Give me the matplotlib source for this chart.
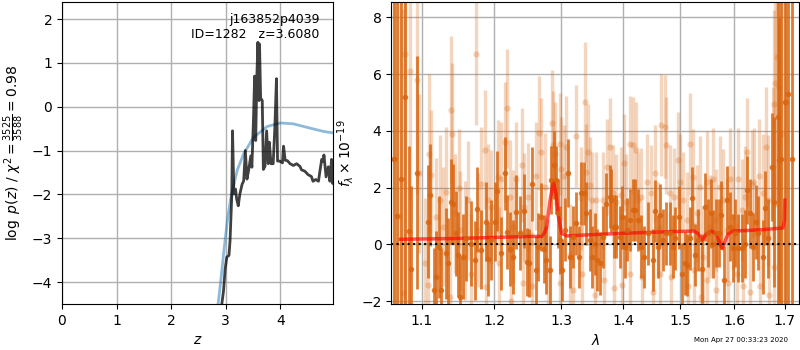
import matplotlib
matplotlib.use("Agg")
import matplotlib.pyplot as plt
from matplotlib.ticker import FixedLocator, FixedFormatter, NullLocator

# ---- redshift probability panel ----
z_grid = [2.90, 2.93, 2.96, 2.99, 3.02, 3.06, 3.08, 3.11, 3.125, 3.15, 3.18, 3.20,
          3.23, 3.26, 3.30, 3.33, 3.36, 3.39, 3.42, 3.46, 3.48, 3.51, 3.53, 3.55,
          3.57, 3.59, 3.61, 3.62, 3.64, 3.67, 3.69, 3.72, 3.75, 3.78, 3.80, 3.83,
          3.87, 3.90, 3.93, 3.95, 3.99, 4.04, 4.06, 4.09, 4.13, 4.18, 4.24, 4.30,
          4.36, 4.39, 4.45, 4.51, 4.57, 4.60, 4.65, 4.70, 4.73, 4.76, 4.79, 4.80,
          4.84, 4.88, 4.91, 4.94, 4.96, 4.98]
log_pz = [-4.80, -4.49, -4.20, -3.70, -3.43, -3.39, -3.05, -2.07, -0.55, -1.99, -1.88, -2.10,
          -2.26, -1.99, -1.77, -1.69, -1.00, -1.65, -1.45, -1.12, -1.38, -0.24, 0.70, -0.77,
          0.65, 1.47, 0.14, 1.43, 0.20, 0.14, -1.43, -1.36, -0.55, -1.30, -0.81, -1.30,
          -1.30, -0.49, 0.64, -1.24, -1.24, -1.28, -0.90, -1.22, -1.23, -1.30, -1.34, -1.30,
          -1.36, -1.44, -1.47, -1.55, -1.59, -1.70, -1.66, -1.70, -1.44, -1.20, -1.25, -1.10,
          -1.60, -1.37, -1.70, -1.20, -1.75, -1.60]

z_prior = [2.84, 2.88, 2.92, 2.97, 3.03, 3.09, 3.21, 3.33, 3.51, 3.76, 4.00, 4.24,
           4.52, 4.78, 4.98]
log_prior = [-4.70, -4.30, -3.85, -3.25, -2.60, -2.10, -1.45, -1.07, -0.70, -0.45, -0.37, -0.39,
             -0.48, -0.56, -0.60]

field_name = "j163852p4039"
obj_id = 1282
z_best = 3.6080
chi2_num, chi2_den = 3525, 3588

# ---- 1D spectrum panel ----
# first set (strong points)
wave_a = [1.0636, 1.0680, 1.0723, 1.0784, 1.0831, 1.0862, 1.0935, 1.1080, 1.1112, 1.1160,
          1.1183, 1.1227, 1.1259, 1.1318, 1.1349, 1.1396, 1.1418, 1.1455, 1.1486, 1.1519,
          1.1555, 1.1603, 1.1673, 1.1719, 1.1751, 1.1813, 1.1875, 1.1908, 1.1956, 1.2002,
          1.2036, 1.2100, 1.2148, 1.2188, 1.2222, 1.2270, 1.2310, 1.2368, 1.2433, 1.2484,
          1.2508, 1.2559, 1.2609, 1.2643, 1.2695, 1.2731, 1.2772, 1.2823, 1.2849, 1.2884,
          1.2926, 1.2957, 1.2977, 1.3019, 1.3060, 1.3108, 1.3146, 1.3187, 1.3229, 1.3281,
          1.3319, 1.3361, 1.3400, 1.3453, 1.3497, 1.3534, 1.3571, 1.3615, 1.3669, 1.3726,
          1.3780, 1.3808, 1.3846, 1.3891, 1.3946, 1.3991, 1.4030, 1.4069, 1.4127, 1.4171,
          1.4212, 1.4256, 1.4314, 1.4354, 1.4428, 1.4505, 1.4550, 1.4602, 1.4644, 1.4690,
          1.4750, 1.4809, 1.4868, 1.4898, 1.4975, 1.5036, 1.5078, 1.5120, 1.5169, 1.5200,
          1.5260, 1.5320, 1.5383, 1.5444, 1.5506, 1.5557, 1.5599, 1.5650, 1.5712, 1.5756,
          1.5800, 1.5852, 1.5915, 1.5967, 1.6011, 1.6074, 1.6139, 1.6204, 1.6237, 1.6301,
          1.6366, 1.6419, 1.6464, 1.6551, 1.6597, 1.6663, 1.6731, 1.6771, 1.6851, 1.6883,
          1.6919, 1.7000, 1.7056, 1.7144]
flux_a = [3.00, 1.00, 2.32, 5.20, 0.48, -0.85, 2.53, 0.80, 1.74, -1.61,
          -1.14, -0.08, -1.61, -0.32, -0.67, 1.50, 1.43, 0.39, -0.37, -1.84,
          -0.44, 0.21, 0.02, -0.56, 1.23, -0.18, 0.80, -0.52, 0.15, 0.80,
          1.88, -0.32, 2.50, 0.43, -0.17, -0.45, 1.15, 0.39, 1.19, -0.62,
          -0.65, 2.12, -0.90, -0.08, 0.95, -0.17, -0.55, -0.90, 2.26, 2.79,
          2.26, 1.09, 0.15, -0.90, 0.52, 2.50, -0.44, 0.27, 0.74, -0.44,
          1.80, 1.80, 1.09, 0.15, -0.44, 0.02, -0.55, -0.67, 0.27, 1.43,
          1.68, 1.55, 0.63, 0.63, 0.27, 0.95, -0.08, 0.52, 0.86, 1.22,
          1.22, 0.86, -0.08, -0.44, 0.39, -0.55, 1.18, -0.08, 1.03, 0.15,
          0.39, 0.39, -0.08, 0.21, 0.95, -1.05, -0.67, -0.73, 0.21, 1.62,
          -0.37, 0.15, -0.85, 1.31, 0.39, 1.09, 0.02, 0.39, 0.39, 1.03,
          -1.26, 1.55, 0.63, -0.13, 0.39, -0.13, -0.13, 0.02, 1.91, 1.09,
          -0.08, 0.80, 0.39, -0.44, 1.27, 0.21, 2.73, 1.50, 4.50, 2.97,
          3.00, 5.00, 5.31, 3.00]
err_a = [12.0, 12.0, 10.0, 9.0, 3.0, 2.9, 4.1, 2.0, 1.8, 1.5,
         1.6, 1.8, 1.5, 1.6, 1.6, 1.5, 1.4, 1.5, 1.5, 1.4,
         1.5, 1.5, 1.5, 1.4, 1.5, 1.4, 1.4, 1.3, 1.4, 1.4,
         1.4, 1.3, 1.3, 1.3, 1.3, 1.3, 1.3, 1.3, 1.3, 1.2,
         1.2, 1.3, 1.2, 1.2, 1.2, 1.2, 1.2, 1.2, 1.2, 1.2,
         1.2, 1.2, 1.2, 1.1, 1.1, 1.2, 1.1, 1.1, 1.1, 1.1,
         1.1, 1.1, 1.1, 1.1, 1.1, 1.1, 1.1, 1.1, 1.1, 1.1,
         1.1, 1.1, 1.1, 1.1, 1.1, 1.1, 1.1, 1.1, 1.1, 1.1,
         1.1, 1.1, 1.1, 1.1, 1.1, 1.1, 1.1, 1.1, 1.1, 1.1,
         1.1, 1.1, 1.1, 1.1, 1.1, 1.1, 1.1, 1.1, 1.1, 1.1,
         1.1, 1.1, 1.2, 1.2, 1.2, 1.2, 1.2, 1.2, 1.2, 1.2,
         1.2, 1.2, 1.2, 1.2, 1.2, 1.2, 1.2, 1.2, 1.2, 1.2,
         1.2, 1.3, 1.3, 1.3, 1.3, 1.4, 1.9, 3.0, 12.0, 5.0,
         12.0, 12.0, 12.0, 12.0]

# second set (faint points)
wave_b = [1.0638, 1.0697, 1.0752, 1.0775, 1.0844, 1.0931, 1.0957, 1.1036, 1.1080, 1.1094,
          1.1126, 1.1192, 1.1236, 1.1281, 1.1318, 1.1379, 1.1396, 1.1406, 1.1441, 1.1495,
          1.1509, 1.1579, 1.1625, 1.1673, 1.1733, 1.1765, 1.1813, 1.1860, 1.1885, 1.1908,
          1.1956, 1.2051, 1.2061, 1.2100, 1.2148, 1.2182, 1.2222, 1.2236, 1.2270, 1.2320,
          1.2409, 1.2421, 1.2429, 1.2493, 1.2544, 1.2556, 1.2609, 1.2658, 1.2695, 1.2746,
          1.2797, 1.2858, 1.2874, 1.2900, 1.2977, 1.2988, 1.3004, 1.3040, 1.3082, 1.3145,
          1.3186, 1.3240, 1.3319, 1.3332, 1.3373, 1.3389, 1.3426, 1.3465, 1.3497, 1.3534,
          1.3562, 1.3669, 1.3681, 1.3736, 1.3780, 1.3835, 1.3846, 1.3891, 1.3974, 1.3991,
          1.4013, 1.4059, 1.4115, 1.4123, 1.4171, 1.4217, 1.4256, 1.4314, 1.4328, 1.4411,
          1.4487, 1.4515, 1.4545, 1.4602, 1.4631, 1.4649, 1.4720, 1.4738, 1.4809, 1.4827,
          1.4880, 1.4957, 1.4987, 1.5047, 1.5109, 1.5138, 1.5169, 1.5229, 1.5242, 1.5291,
          1.5351, 1.5366, 1.5412, 1.5476, 1.5491, 1.5537, 1.5599, 1.5649, 1.5662, 1.5724,
          1.5787, 1.5852, 1.5882, 1.5915, 1.5978, 1.6043, 1.6073, 1.6139, 1.6170, 1.6204,
          1.6249, 1.6302, 1.6335, 1.6380, 1.6483, 1.6497, 1.6563, 1.6617, 1.6663, 1.6673,
          1.6763, 1.6773, 1.6777, 1.6797, 1.6831, 1.6884, 1.6939, 1.7021]
flux_b = [3.00, 1.00, -1.72, 6.70, 6.10, 5.78, 2.50, -0.67, -1.44, 3.20,
          2.43, 0.95, 1.55, 0.63, 1.85, -1.87, 4.75, 3.90, 1.09, 1.97,
          0.50, 0.15, 1.55, -1.03, 6.72, 0.50, 2.14, 3.34, -1.50, 1.55,
          1.32, 2.38, -0.67, 2.30, 3.61, 4.79, 1.68, -2.00, 0.63, 2.30,
          2.79, -1.37, 1.32, 1.68, 0.08, -1.48, 2.40, 3.93, 3.26, 2.02,
          -0.90, 4.26, 3.50, 3.20, -1.37, 3.55, 2.67, 2.40, 3.44, -0.37,
          -1.60, 3.81, 1.62, -1.03, 5.02, 2.55, 3.26, 2.08, 1.55, -1.80,
          1.55, 1.55, -1.26, 2.73, 3.44, 1.80, -1.55, 1.50, 1.74, -1.43,
          2.88, 1.50, 3.53, -1.03, 3.49, 3.32, 1.55, 1.68, -1.14, 2.20,
          1.80, -1.66, 2.50, 0.50, -1.03, 4.20, 4.15, 3.49, 1.80, -1.14,
          1.68, 2.97, 2.20, 1.55, 0.86, -1.48, 3.55, 2.38, -0.90, 1.09,
          2.02, -1.84, -0.44, 2.20, -1.26, 0.63, 2.30, -1.61, 0.86, 2.02,
          1.55, 0.50, -1.37, 2.30, 0.95, -1.03, 2.30, 1.22, -1.48, 1.68,
          3.26, -1.66, 2.14, 2.20, 2.40, -1.48, 1.80, 3.44, 1.55, -1.80,
          2.73, -0.79, 4.95, 5.67, 6.60, 5.55, 3.90, 5.00]
err_b = [15.0, 12.0, 10.0, 10.0, 4.5, 4.0, 2.8, 2.3, 2.1, 2.8,
         2.3, 2.1, 2.3, 2.1, 2.3, 2.1, 2.6, 2.5, 2.1, 2.1,
         2.1, 2.1, 2.1, 2.1, 2.5, 2.0, 2.0, 2.1, 2.0, 2.0,
         2.0, 2.0, 2.0, 2.0, 2.1, 2.1, 2.0, 1.9, 2.0, 2.0,
         2.0, 1.9, 1.9, 1.9, 1.9, 1.9, 1.9, 2.0, 1.9, 1.9,
         1.8, 1.9, 1.9, 1.8, 1.8, 1.8, 1.8, 1.8, 1.8, 1.8,
         1.8, 1.8, 1.8, 1.7, 2.1, 1.7, 1.7, 1.7, 1.7, 1.7,
         1.7, 1.7, 1.7, 1.7, 1.7, 1.7, 1.7, 1.7, 1.7, 1.7,
         1.7, 1.7, 1.7, 1.7, 1.7, 1.7, 1.7, 1.7, 1.7, 1.7,
         1.7, 1.7, 1.7, 1.7, 1.7, 1.8, 1.8, 1.7, 1.7, 1.7,
         1.7, 1.7, 1.7, 1.7, 1.7, 1.7, 1.8, 1.7, 1.7, 1.7,
         1.8, 1.8, 1.8, 1.8, 1.8, 1.8, 1.8, 1.8, 1.8, 1.8,
         1.8, 1.8, 1.8, 1.8, 1.8, 1.8, 1.8, 1.8, 1.8, 1.8,
         1.9, 1.9, 1.9, 1.9, 2.0, 2.0, 2.1, 2.1, 2.3, 2.3,
         2.8, 3.3, 3.3, 4.3, 5.3, 5.3, 8.0, 12.0]

# best-fit model
wave_model = [1.0722, 1.1500, 1.2503, 1.2700, 1.2740, 1.2777, 1.2828, 1.2880, 1.2920, 1.2957,
              1.3008, 1.3087, 1.3566, 1.4000, 1.4680, 1.5250, 1.5320, 1.5394, 1.5470, 1.5574,
              1.5660, 1.5768, 1.5877, 1.5960, 1.6250, 1.6570, 1.6960, 1.6990, 1.7000]
flux_model = [0.18, 0.21, 0.28, 0.28, 0.40, 0.63, 1.56, 2.20, 1.80, 0.99,
              0.39, 0.30, 0.35, 0.39, 0.44, 0.47, 0.38, 0.15, 0.36, 0.47,
              0.36, -0.14, 0.36, 0.47, 0.49, 0.52, 0.58, 0.86, 1.56]

wave_ticks = [1.1, 1.2, 1.3, 1.4, 1.5, 1.6, 1.7]
timestamp = "Mon Apr 27 00:33:23 2020"

grism_color = "#d9650f"

fig = plt.figure(figsize=(8, 3.5), dpi=100)

# left: p(z)
ax1 = fig.add_axes([0.0775, 0.1314, 0.339, 0.863])
ax1.plot(z_prior, log_prior, color="#1f77b4", alpha=0.5, lw=2)
ax1.plot(z_grid, log_pz, color="k", alpha=0.75, lw=2)
ax1.set_xlim(0, 4.97)
ax1.set_ylim(-4.5, 2.39)
ax1.set_xticks([0, 1, 2, 3, 4])
ax1.set_yticks([-4, -3, -2, -1, 0, 1, 2])
ax1.grid(True, color="#b0b0b0", lw=1)
ax1.set_axisbelow(True)
ax1.set_xlabel("$z$")
ax1.set_ylabel(r"$\log\ p(z)$ / $\chi^2=\frac{%d}{%d}=%.2f$"
               % (chi2_num, chi2_den, chi2_num / chi2_den))
ax1.text(0.95, 0.965, "%s\nID=%-5d  z=%.4f" % (field_name, obj_id, z_best),
         ha="right", va="top", transform=ax1.transAxes, fontsize=9)

# right: spectrum
ax2 = fig.add_axes([0.489, 0.1314, 0.51, 0.863])
ax2.errorbar(wave_b, flux_b, yerr=err_b, color=grism_color, alpha=0.27,
             marker="o", ms=4.5, linestyle="none", elinewidth=2.4, capsize=0,
             markeredgewidth=0)
ax2.errorbar(wave_a, flux_a, yerr=err_a, color=grism_color, alpha=0.85,
             marker="o", ms=4.0, linestyle="none", elinewidth=2.0, capsize=0,
             markeredgewidth=0)
ax2.plot(wave_model, flux_model, color="r", alpha=0.65, lw=2.5)
ax2.axhline(0, color="k", linestyle=":", lw=1.5)
ax2.set_xscale("log")
ax2.set_xlim(1.0603, 1.7295)
ax2.set_ylim(-2.1, 8.54)
ax2.xaxis.set_major_locator(FixedLocator(wave_ticks))
ax2.xaxis.set_major_formatter(FixedFormatter(["%.1f" % w for w in wave_ticks]))
ax2.xaxis.set_minor_locator(NullLocator())
ax2.set_yticks([-2, 0, 2, 4, 6, 8])
ax2.grid(True, color="#b0b0b0", lw=1)
ax2.set_axisbelow(True)
ax2.set_xlabel(r"$\lambda$")
ax2.set_ylabel(r"$f_\lambda\times10^{-19}$")

fig.text(0.985, 0.02, timestamp, ha="right", va="bottom", fontsize=5)

fig.savefig("out.png", dpi=100)
